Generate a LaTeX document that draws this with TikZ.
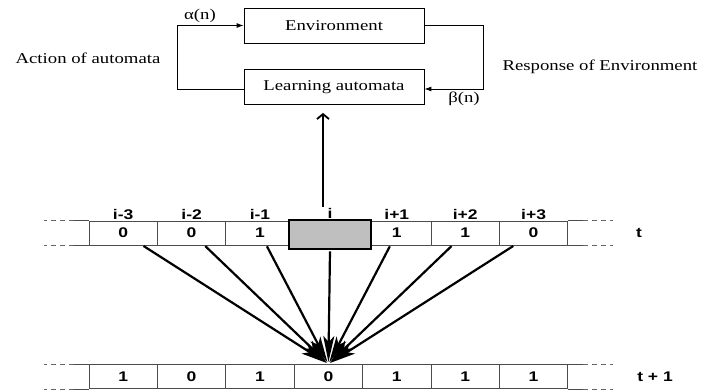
\documentclass[tikz,border=0pt]{standalone}
\usepackage{fontspec}
\setmainfont{Liberation Serif}[FakeStretch=1.25]
\newfontfamily\cellfont{Liberation Sans}[FakeStretch=1.25]
\usetikzlibrary{arrows.meta,positioning}

\begin{document}
\begin{tikzpicture}[x=1pt, y=-1pt,
    box/.style={draw, line width=0.8pt, minimum width=180pt, minimum height=35pt, inner sep=0pt, font=\fontsize{15}{18}\selectfont},
    lbl/.style={inner sep=0pt, font=\fontsize{15}{18}\selectfont},
    feed/.style={line width=0.9pt, -{Latex[length=7pt,width=5pt]}},
    cell/.style={draw=black!70, line width=0.9pt, minimum width=68.4pt, minimum height=24pt, inner sep=0pt, font=\cellfont\bfseries\fontsize{14}{16}\selectfont},
    hot/.style={draw, line width=2.8pt, fill=black!25, minimum width=82pt, minimum height=29pt, inner sep=0pt},
    idx/.style={inner sep=1pt, font=\cellfont\bfseries\fontsize{14}{16}\selectfont},
    edge/.style={draw=black!70, line width=0.9pt},
    dots/.style={draw=black!60, line width=0.8pt, dash pattern=on 5pt off 4pt},
    fan/.style={line width=2.2pt, shorten <=1pt, shorten >=2pt, -{Stealth[length=26pt,width=11pt,inset=6pt]}},
    up/.style={line width=1.8pt, shorten >=8pt, -{Straight Barb[length=5pt,width=12pt]}}]
    \useasboundingbox (0,0) rectangle (702,390);

    % Define the nodes
    \node[box] (env) at (334,25.5) {Environment\hspace{28pt}};
    \node[box] (la) at (334,87) {Learning automata};
    \node[lbl] (alpha) at (200,16) {α(n)};
    \node[lbl] (beta) at (464,99) {β(n)};
    \node[lbl] (act) at (88,58) {Action of automata};
    \node[lbl] (resp) at (600,67) {Response of Environment};

    % feedback loop
    \draw[feed] ([yshift=-2pt]la.west) -- ++(-66,0) |- (env.west);
    \draw[feed] (env.east) -- ++(59,0) |- ([yshift=-2pt]la.east);

    % row at time t
    \foreach \k/\v/\n in {1/0/i-3, 2/0/i-2, 3/1/i-1, 5/1/i+1, 6/1/i+2, 7/0/i+3} {
        \node[cell] (t\k) at ({54.8+68.4*\k},233) {\v};
        \node[idx, above=0pt of t\k] (n\k) {\n};
    }
    \node[hot] (t4) at (330,234.5) {};
    \node[idx, above=-1pt of t4] (n4) {i};
    \node[idx] (tlab) at (639,233) {t};

    % row at time t + 1
    \foreach \v [count=\k] in {1,0,1,0,1,1,1}
        \node[cell] (b\k) at ({54.8+68.4*\k},376.5) {\v};
    \node[idx] (tnext) at (655,377) {t + 1};

    % open ends of both rows
    \foreach \r in {t,b}
        \foreach \a/\s in {1.north west/-1, 1.south west/-1, 7.north east/1, 7.south east/1} {
            \draw[edge] (\r\a) -- ++(15*\s,0);
            \draw[dots] ([xshift=\s*15pt]\r\a) -- ++(30*\s,0);
        }

    % neighbourhood arrows
    \foreach \k in {1,2,3,5,6,7}
        \draw[fan] (t\k) -- (b4.north);
    \draw[fan] (t4.south) -- (b4.north);

    % cell i feeds the automaton
    \coordinate (foot) at ([xshift=-7pt]n4.north);
    \draw[up] (foot) -- (foot |- la.south);
\end{tikzpicture}
\end{document}
